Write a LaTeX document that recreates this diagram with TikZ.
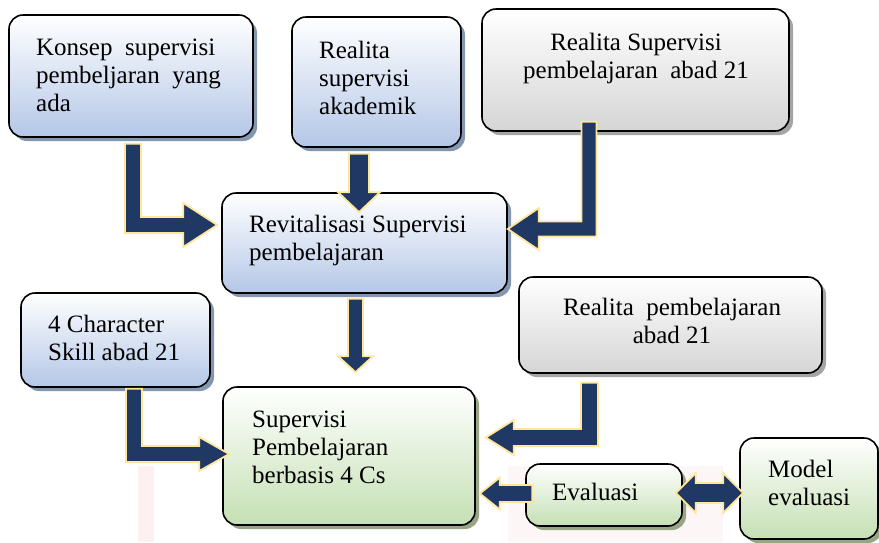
\documentclass[tikz,border=0pt]{standalone}
\usepackage{fontspec}
\setmainfont{Liberation Serif}
\usetikzlibrary{shadows,calc}

\definecolor{navy}{HTML}{203864}
\definecolor{cream}{HTML}{FFE699}
\definecolor{bluebot}{HTML}{B4C7E7}
\definecolor{graybot}{HTML}{D5D5D5}
\definecolor{greenbot}{HTML}{C5E0B4}
\definecolor{blueshadow}{HTML}{8497B0}
\definecolor{grayshadow}{HTML}{A5A5A5}
\definecolor{greenshadow}{HTML}{97A584}
\definecolor{wmark}{HTML}{FCF0F1}
\definecolor{wmarklight}{HTML}{FDF6F6}

\tikzset{
  box/.style={draw=black, line width=1.6pt, rounded corners=14pt, inner sep=0pt},
  bluebox/.style={box, top color=white, bottom color=bluebot,
    drop shadow={shadow xshift=4pt, shadow yshift=-4pt, fill=blueshadow, opacity=1}},
  graybox/.style={box, top color=white, bottom color=graybot,
    drop shadow={shadow xshift=4pt, shadow yshift=-4pt, fill=grayshadow, opacity=1}},
  greenbox/.style={box, top color=white, bottom color=greenbot,
    drop shadow={shadow xshift=4pt, shadow yshift=-4pt, fill=greenshadow, opacity=1}},
  % multi-line labels: the base anchor sits on the last line
  txt/.style={font=\fontsize{25}{28}\selectfont, inner sep=0pt, anchor=base west, align=left},
  ctxt/.style={txt, anchor=base, align=center},
  blockarrow/.style={fill=navy, draw=cream, line width=1.8pt, line join=miter},
}

% block arrows: #1 start, #2 tip, #3 half shaft width, #4 half head width, #5 head length
% down, then right
\newcommand{\arrowDR}[5]{\path[blockarrow] let \p1=(#1), \p2=(#2) in
  (\x1-#3,\y1) -- (\x1+#3,\y1) -- (\x1+#3,\y2+#3) -- (\x2-#5,\y2+#3) -- (\x2-#5,\y2+#4)
  -- (\x2,\y2) -- (\x2-#5,\y2-#4) -- (\x2-#5,\y2-#3) -- (\x1-#3,\y2-#3) -- cycle;}
% down, then left
\newcommand{\arrowDL}[5]{\path[blockarrow] let \p1=(#1), \p2=(#2) in
  (\x1+#3,\y1) -- (\x1-#3,\y1) -- (\x1-#3,\y2+#3) -- (\x2+#5,\y2+#3) -- (\x2+#5,\y2+#4)
  -- (\x2,\y2) -- (\x2+#5,\y2-#4) -- (\x2+#5,\y2-#3) -- (\x1+#3,\y2-#3) -- cycle;}
% straight down
\newcommand{\arrowD}[5]{\path[blockarrow] let \p1=(#1), \p2=(#2) in
  (\x1-#3,\y1) -- (\x1+#3,\y1) -- (\x1+#3,\y2+#5) -- (\x1+#4,\y2+#5) -- (\x1,\y2)
  -- (\x1-#4,\y2+#5) -- (\x1-#3,\y2+#5) -- cycle;}
% straight left
\newcommand{\arrowL}[5]{\path[blockarrow] let \p1=(#1), \p2=(#2) in
  (\x1,\y1+#3) -- (\x2+#5,\y1+#3) -- (\x2+#5,\y1+#4) -- (\x2,\y1) -- (\x2+#5,\y1-#4)
  -- (\x2+#5,\y1-#3) -- (\x1,\y1-#3) -- cycle;}
% double-headed, horizontal
\newcommand{\arrowLR}[5]{\path[blockarrow] let \p1=(#1), \p2=(#2) in
  (\x1,\y1) -- (\x1+#5,\y1+#4) -- (\x1+#5,\y1+#3) -- (\x2-#5,\y1+#3) -- (\x2-#5,\y1+#4)
  -- (\x2,\y1) -- (\x2-#5,\y1-#4) -- (\x2-#5,\y1-#3) -- (\x1+#5,\y1-#3) -- (\x1+#5,\y1-#4) -- cycle;}

\begin{document}
\begin{tikzpicture}[x=1pt,y=-1pt]
\useasboundingbox (0,0) rectangle (879,542);
\fill[white] (0,0) rectangle (879,542);

% faint watermark behind the diagram
\fill[wmark] (138,466) rectangle (154,542);
\fill[wmarklight] (508,466) rectangle (723,542);

% boxes
\node[bluebox, minimum width=244pt, minimum height=122pt] (konsep)   at (131,76)    {};
\node[bluebox, minimum width=169pt, minimum height=130pt] (akademik) at (376.5,82)  {};
\node[graybox, minimum width=307pt, minimum height=122pt] (realsup)  at (635.5,70)  {};
\node[bluebox, minimum width=285pt, minimum height=100pt] (revit)    at (364.5,243) {};
\node[bluebox, minimum width=189pt, minimum height=94pt]  (skill)    at (115.5,340) {};
\node[graybox, minimum width=303pt, minimum height=96pt]  (realpemb) at (670.5,325) {};
\node[greenbox, minimum width=252pt, minimum height=138pt] (cs)      at (349,456)   {};
\node[greenbox, minimum width=156pt, minimum height=62pt] (eval)     at (604,495)   {};
\node[greenbox, minimum width=138pt, minimum height=101pt] (model)   at (809,488.5) {};

% texts (positioned by the baseline of their last line)
\node[txt]  (tkonsep)   at (36,111)  {Konsep\ \ supervisi\\pembeljaran\ \ yang\\ada};
\node[txt]  (takademik) at (319,114) {Realita\\supervisi\\akademik};
\node[ctxt] (trealsup)  at (636,78)  {Realita Supervisi\\pembelajaran\ \ abad 21};
\node[txt]  (trevit)    at (249,260) {Revitalisasi Supervisi\\pembelajaran};
\node[txt]  (tskill)    at (48,360)  {4 Character\\Skill abad 21};
\node[ctxt] (trealpemb) at (672,343) {Realita\ \ pembelajaran\\abad 21};
\node[txt]  (tcs)       at (252,483) {Supervisi\\Pembelajaran\\berbasis 4 Cs};
\node[txt]  (teval)     at (552,500) {Evaluasi};
\node[txt]  (tmodel)    at (768,505) {Model\\evaluasi};

% connectors
\arrowDR{$(konsep.south)+(2,6)$}{$(revit.west)+(-4,-18)$}{8pt}{22pt}{34pt}
\arrowD{$(akademik.south)+(-17.5,6)$}{$(revit.north)+(-5.5,20)$}{10pt}{21pt}{20pt}
\arrowDL{$(realsup.south)+(-46.5,-10)$}{$(revit.east)+(0,-14)$}{7.5pt}{21pt}{31pt}
\arrowD{$(revit.south)+(-9,5)$}{$(cs.north)+(6.5,-14)$}{7.5pt}{17.5pt}{16pt}
\arrowDR{$(skill.south)+(18.5,1)$}{$(cs.west)+(7,-2)$}{8pt}{17pt}{30pt}
\arrowDL{$(realpemb.south)+(-81,9)$}{$(cs.east)+(10,-18.5)$}{8.5pt}{17.5pt}{28pt}
\arrowL{$(eval.west)+(7,-1.5)$}{$(cs.east)+(4,37.5)$}{8.5pt}{16pt}{20pt}
\arrowLR{$(eval.east)+(-7,-2)$}{$(model.west)+(4,4.5)$}{10pt}{20pt}{20pt}
\end{tikzpicture}
\end{document}
